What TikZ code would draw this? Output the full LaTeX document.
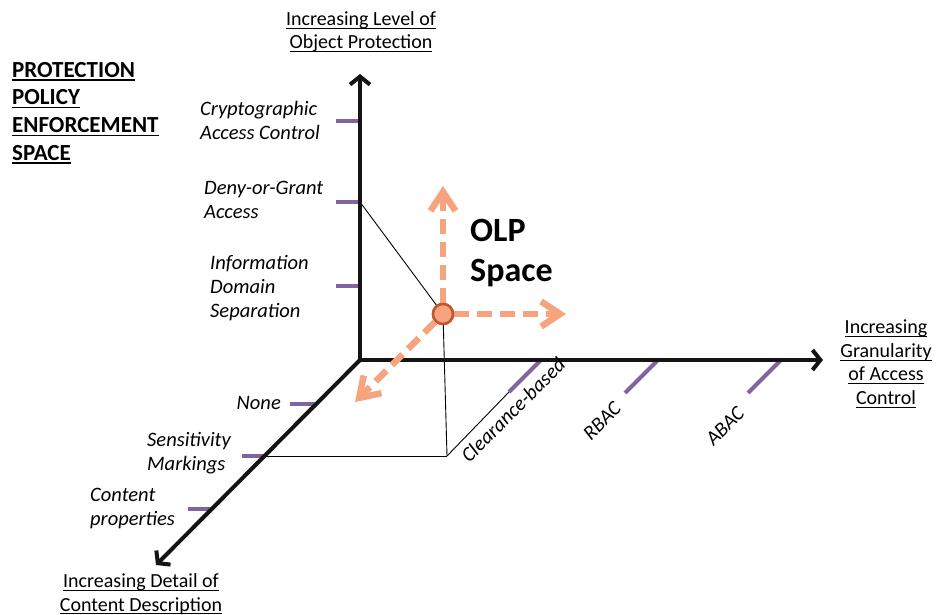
\documentclass[tikz,border=0pt]{standalone}
\usepackage{fontspec}
\setmainfont{Carlito}
\usetikzlibrary{arrows.meta}
\definecolor{axisblack}{HTML}{141414}
\definecolor{tickpurple}{HTML}{8064A2}
\definecolor{olporange}{HTML}{F5A47E}
\definecolor{olpedge}{HTML}{C4562E}
% underline that sits at a fixed distance below the baseline
\newcommand\undl[1]{\setbox0\hbox{#1}\rlap{\rule[-3.4pt]{\wd0}{1.3pt}}\box0}
\begin{document}
\begin{tikzpicture}[x=1pt,y=-1pt,
  axtip/.tip={Straight Barb[length=8pt,width=20pt]},
  olptip/.tip={Straight Barb[length=19pt,width=25pt]},
  axisline/.style={draw=axisblack,line width=4pt,line join=miter},
  ptick/.style={draw=tickpurple,line width=4pt},
  guide/.style={draw=black,line width=0.9pt},
  olpdash/.style={draw=olporange,line width=6.5pt,dash pattern=on 15pt off 8pt,-olptip},
  olpdot/.style={circle,fill=olporange,draw=olpedge,line width=2.5pt,minimum size=20pt,inner sep=0pt},
  lbl/.style={font=\fontsize{20.5}{24}\selectfont\itshape,align=left,inner sep=0pt},
  axlbl/.style={font=\fontsize{20}{23.5}\selectfont,align=center,inner sep=0pt},
]
\useasboundingbox[fill=white] (0,0) rectangle (936,615);

% axis end points
\coordinate (O) at (360,360);
\coordinate (Ytop) at (360,74);
\coordinate (Xend) at (823,360);
\coordinate (Zend) at (156,565);

% tick positions
\coordinate (tCrypto) at (360,121);
\coordinate (tDeny) at (360,202);
\coordinate (tInfo) at (360,286);
\coordinate (tCryptoL) at (336,121);
\coordinate (tDenyL) at (336,202);
\coordinate (tInfoL) at (336,286);
\coordinate (tNone) at (315,404);
\coordinate (tNoneL) at (290,404);
\coordinate (tSens) at (266,456);
\coordinate (tSensL) at (242,456);
\coordinate (tCont) at (212,509);
\coordinate (tContL) at (188,509);
\coordinate (tClear) at (540,361);
\coordinate (tClearB) at (509,392);
\coordinate (tRbac) at (657,361);
\coordinate (tRbacB) at (625,393);
\coordinate (tAbac) at (780,361);
\coordinate (tAbacB) at (748,393);
\coordinate (corner) at (447,456);

% OLP arrow ends
\coordinate (olpUp) at (443,186);
\coordinate (olpRight) at (566,314);
\coordinate (olpDown) at (355,402);

% ticks
\draw[ptick] (tCryptoL) -- (tCrypto);
\draw[ptick] (tDenyL) -- (tDeny);
\draw[ptick] (tInfoL) -- (tInfo);
\draw[ptick] (tNoneL) -- (tNone);
\draw[ptick] (tSensL) -- (tSens);
\draw[ptick] (tContL) -- (tCont);
\draw[ptick] (tClear) -- (tClearB);
\draw[ptick] (tRbac) -- (tRbacB);
\draw[ptick] (tAbac) -- (tAbacB);

% OLP marker (placed first so the guides can end on its rim)
\node[olpdot] (olp) at (443,314) {};

% projection guides
\draw[guide] (tDeny) -- (olp);
\draw[guide] (olp) -- (corner);
\draw[guide] (tSens) -- (corner);
\draw[guide] (corner) -- (tClearB);

% axes
\draw[axisline,axtip-axtip] (Ytop) -- (O) -- (Xend);
\draw[axisline,line cap=round,-axtip] (O) -- (Zend);

% OLP space directions
\draw[olpdash] (olp) -- (olpUp);
\draw[olpdash] (olp) -- (olpRight);
\draw[olpdash] (olp) -- (olpDown);
\node[olpdot] (olpTop) at (olp) {};

% title
\node[anchor=west,align=left,inner sep=0pt,font=\fontsize{23}{27.7}\selectfont\bfseries] (title) at (12,113)
  {\undl{PROTECTION}\\\undl{POLICY}\\\undl{ENFORCEMENT}\\\undl{SPACE}};

% axis captions
\node[axlbl] (yLabel) at (361,32) {\undl{Increasing Level of}\\\undl{Object Protection}};
\node[axlbl] (xLabel) at (886,364) {\undl{Increasing}\\\undl{Granularity}\\\undl{of Access}\\\undl{Control}};
\node[axlbl] (zLabel) at (141,594) {\undl{Increasing Detail of}\\\undl{Content Description}};

% vertical axis levels
\node[lbl,anchor=west] (lCrypto) at (200,120) {Cryptographic\\Access Control};
\node[lbl,anchor=west] (lDeny) at (204,200) {Deny-or-Grant\\Access};
\node[lbl,anchor=west] (lInfo) at (210,288) {Information\\Domain\\Separation};

% depth axis levels
\node[lbl,anchor=east] (lNone) at (281,403) {None};
\node[lbl,anchor=west] (lSens) at (147,453) {Sensitivity\\Markings};
\node[lbl,anchor=west] (lCont) at (90,508) {Content\\properties};

% horizontal axis levels
\node[lbl,rotate=45] (lClear) at (513,410) {Clearance-based};
\node[lbl,rotate=45] (lRbac) at (602,421) {RBAC};
\node[lbl,rotate=45] (lAbac) at (725,426) {ABAC};

% OLP caption
\node[anchor=west,align=left,inner sep=0pt,font=\fontsize{34}{40}\selectfont\bfseries] (olpLabel) at (470,253) {OLP\\Space};
\end{tikzpicture}
\end{document}
